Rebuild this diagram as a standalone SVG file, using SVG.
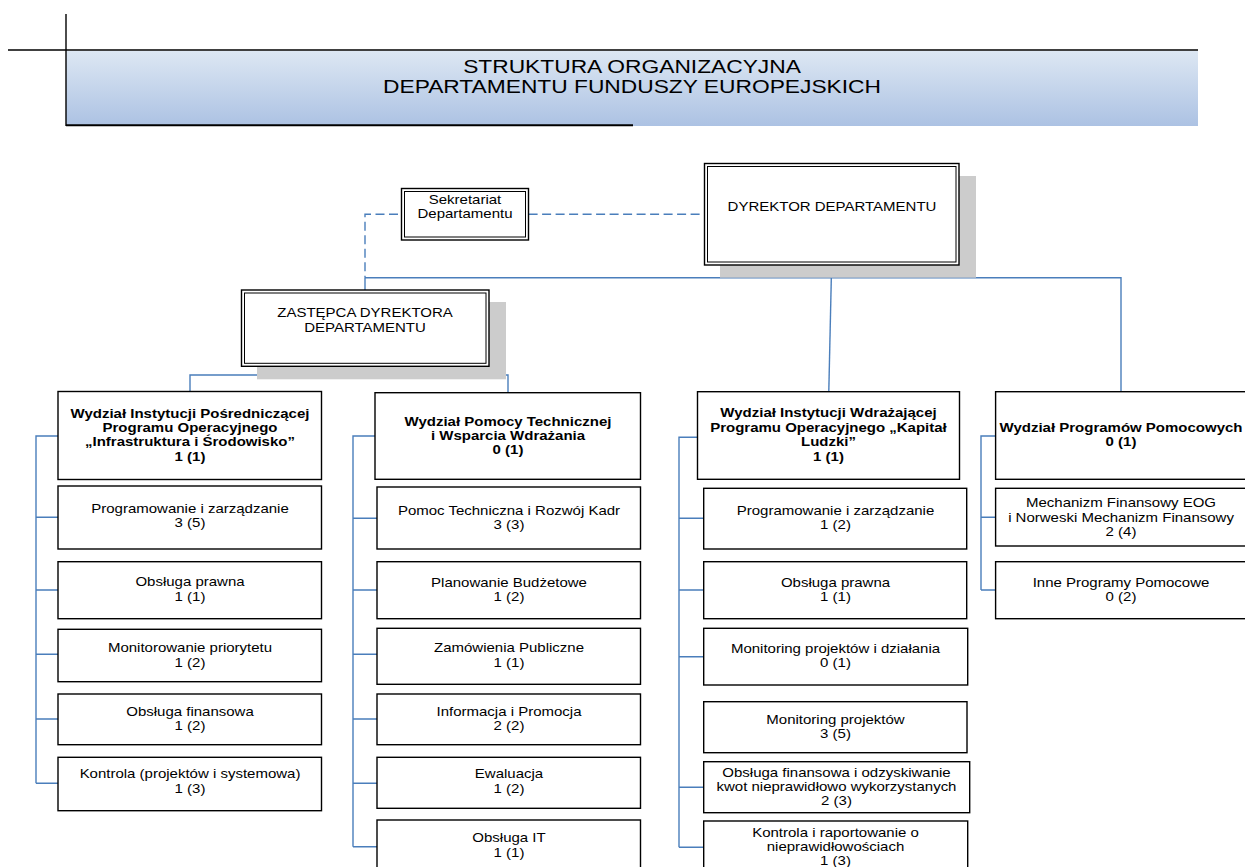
<svg xmlns="http://www.w3.org/2000/svg" width="1245" height="867" viewBox="0 0 1245 867">
<style>
text{font-family:"Liberation Sans",Arial,sans-serif;font-size:12.5px;fill:#000;text-anchor:middle}
.b{font-weight:bold}
.ttl{font-size:18.6px}
.box{fill:#fff;stroke:#000;stroke-width:1.4}
.in{fill:none;stroke:#000;stroke-width:1}
.sh{fill:#cccccc}
.c{fill:none;stroke:#4a7ebb;stroke-width:1.4}
.d{fill:none;stroke:#4a7ebb;stroke-width:1.4;stroke-dasharray:9 4.5}
</style>
<defs>
<linearGradient id="hg" x1="0" y1="0" x2="0" y2="1">
<stop offset="0" stop-color="#dde7f3"/>
<stop offset="1" stop-color="#acc2e3"/>
</linearGradient>
</defs>
<rect width="1245" height="867" fill="#fff"/>

<g id="header">
<rect x="66" y="51" width="1132" height="75" fill="url(#hg)"/>
<line x1="8" y1="50" x2="1198" y2="50" stroke="#000" stroke-width="1.6"/>
<line x1="66" y1="14" x2="66" y2="126" stroke="#000" stroke-width="1.4"/>
<line x1="66" y1="125.2" x2="633" y2="125.2" stroke="#000" stroke-width="2"/>
<g transform="translate(632 0) scale(1.225 1)">
<text class="ttl" x="0" y="73">STRUKTURA ORGANIZACYJNA</text>
<text class="ttl" x="0" y="93.5">DEPARTAMENTU FUNDUSZY EUROPEJSKICH</text>
</g>
</g>

<g id="connectors">
<path class="d" d="M398 214.3H365V277.7"/>
<path class="d" d="M528.6 214.3H701"/>
<path class="c" d="M365 277.7H1121V391.7"/>
<path class="c" d="M365 277.7V290"/>
<path class="c" d="M831.6 265L828.8 391.7"/>
<path class="c" d="M365 366.3V375M190 391.5V375H508V392.7"/>
<path class="c" d="M58 436H36V783.3M36 517.3H58M36 590H58M36 654.3H58M36 719H58M36 783.3H58"/>
<path class="c" d="M375 436H353V846.7M353 518.3H377M353 590H377M353 654.3H377M353 719H377M353 783.3H377M353 846.7H377"/>
<path class="c" d="M697.5 437.3H679V847.3M679 518.3H703.7M679 590H703.7M679 656.7H703.7M679 787.3H703.7M679 847.3H703.7"/>
<path class="c" d="M995.6 436H981V590M981 517.3H995.6M981 590H995.6"/>
</g>

<g id="sekretariat">
<rect class="box" x="401.5" y="188.5" width="127" height="51.5"/>
<rect class="in" x="404.5" y="191.5" width="121" height="45.5"/>
<g transform="translate(465 0) scale(1.2 1)">
<text x="0" y="203.8">Sekretariat</text>
<text x="0" y="218">Departamentu</text>
</g>
</g>

<g id="dyrektor">
<rect class="sh" x="720" y="176" width="256" height="101.7"/>
<rect class="box" x="704.5" y="163.5" width="254.5" height="101.5"/>
<rect class="in" x="707.5" y="166.5" width="248.5" height="95.5"/>
<g transform="translate(832 0) scale(1.2 1)">
<text x="0" y="211.2">DYREKTOR DEPARTAMENTU</text>
</g>
</g>

<g id="zastepca">
<rect class="sh" x="257" y="302" width="249" height="77.3"/>
<rect class="box" x="241.5" y="290" width="247.5" height="76.3"/>
<rect class="in" x="244.5" y="293" width="241.5" height="70.3"/>
<g transform="translate(365 0) scale(1.2 1)">
<text x="0" y="317.2">ZASTĘPCA DYREKTORA</text>
<text x="0" y="332.2">DEPARTAMENTU</text>
</g>
</g>

<g id="wydzial-is">
<rect class="box" x="58" y="391.5" width="263.5" height="88"/>
<g transform="translate(190 0) scale(1.2 1)">
<text class="b" x="0" y="418.3">Wydział Instytucji Pośredniczącej</text>
<text class="b" x="0" y="432.5">Programu Operacyjnego</text>
<text class="b" x="0" y="446.5">„Infrastruktura i Środowisko”</text>
<text class="b" x="0" y="460.7">1 (1)</text>
</g>
</g>
<g id="is-programowanie">
<rect class="box" x="58" y="486" width="263.5" height="63"/>
<g transform="translate(190 0) scale(1.2 1)"><text x="0" y="513">Programowanie i zarządzanie</text><text x="0" y="527.5">3 (5)</text></g>
</g>
<g id="is-prawna">
<rect class="box" x="58" y="561.7" width="263.5" height="57"/>
<g transform="translate(190 0) scale(1.2 1)"><text x="0" y="586.5">Obsługa prawna</text><text x="0" y="601">1 (1)</text></g>
</g>
<g id="is-monitorowanie">
<rect class="box" x="58" y="629.3" width="263.5" height="52.4"/>
<g transform="translate(190 0) scale(1.2 1)"><text x="0" y="652.3">Monitorowanie priorytetu</text><text x="0" y="666.7">1 (2)</text></g>
</g>
<g id="is-finansowa">
<rect class="box" x="58" y="694" width="263.5" height="50.7"/>
<g transform="translate(190 0) scale(1.2 1)"><text x="0" y="715.7">Obsługa finansowa</text><text x="0" y="730">1 (2)</text></g>
</g>
<g id="is-kontrola">
<rect class="box" x="58" y="757.3" width="263.5" height="53.4"/>
<g transform="translate(190 0) scale(1.2 1)"><text x="0" y="778.3">Kontrola (projektów i systemowa)</text><text x="0" y="792.7">1 (3)</text></g>
</g>

<g id="wydzial-pt">
<rect class="box" x="375" y="392.7" width="265.5" height="86.6"/>
<g transform="translate(508 0) scale(1.2 1)">
<text class="b" x="0" y="426">Wydział Pomocy Technicznej</text>
<text class="b" x="0" y="440">i Wsparcia Wdrażania</text>
<text class="b" x="0" y="454">0 (1)</text>
</g>
</g>
<g id="pt-pomoc">
<rect class="box" x="377" y="487" width="263.5" height="62"/>
<g transform="translate(509 0) scale(1.2 1)"><text x="0" y="515">Pomoc Techniczna i Rozwój Kadr</text><text x="0" y="529">3 (3)</text></g>
</g>
<g id="pt-budzet">
<rect class="box" x="377" y="561.7" width="263.5" height="57"/>
<g transform="translate(509 0) scale(1.2 1)"><text x="0" y="586.7">Planowanie Budżetowe</text><text x="0" y="601">1 (2)</text></g>
</g>
<g id="pt-zamowienia">
<rect class="box" x="377" y="628.3" width="263.5" height="56"/>
<g transform="translate(509 0) scale(1.2 1)"><text x="0" y="652.3">Zamówienia Publiczne</text><text x="0" y="667">1 (1)</text></g>
</g>
<g id="pt-informacja">
<rect class="box" x="377" y="694" width="263.5" height="50.7"/>
<g transform="translate(509 0) scale(1.2 1)"><text x="0" y="715.7">Informacja i Promocja</text><text x="0" y="730">2 (2)</text></g>
</g>
<g id="pt-ewaluacja">
<rect class="box" x="377" y="757.3" width="263.5" height="51"/>
<g transform="translate(509 0) scale(1.2 1)"><text x="0" y="778.3">Ewaluacja</text><text x="0" y="792.7">1 (2)</text></g>
</g>
<g id="pt-it">
<rect class="box" x="377" y="820" width="263.5" height="50"/>
<g transform="translate(509 0) scale(1.2 1)"><text x="0" y="842.3">Obsługa IT</text><text x="0" y="856.7">1 (1)</text></g>
</g>

<g id="wydzial-kl">
<rect class="box" x="697.5" y="391.7" width="262" height="87.6"/>
<g transform="translate(828.5 0) scale(1.2 1)">
<text class="b" x="0" y="417.3">Wydział Instytucji Wdrażającej</text>
<text class="b" x="0" y="431.7">Programu Operacyjnego „Kapitał</text>
<text class="b" x="0" y="446">Ludzki”</text>
<text class="b" x="0" y="460.7">1 (1)</text>
</g>
</g>
<g id="kl-programowanie">
<rect class="box" x="703.7" y="488.3" width="263" height="60.7"/>
<g transform="translate(835.5 0) scale(1.2 1)"><text x="0" y="515">Programowanie i zarządzanie</text><text x="0" y="529.3">1 (2)</text></g>
</g>
<g id="kl-prawna">
<rect class="box" x="703.7" y="561.7" width="263" height="57"/>
<g transform="translate(835.5 0) scale(1.2 1)"><text x="0" y="586.7">Obsługa prawna</text><text x="0" y="601">1 (1)</text></g>
</g>
<g id="kl-monitoring-dz">
<rect class="box" x="703.7" y="628.3" width="264" height="56.7"/>
<g transform="translate(835.5 0) scale(1.2 1)"><text x="0" y="652.8">Monitoring projektów i działania</text><text x="0" y="667.3">0 (1)</text></g>
</g>
<g id="kl-monitoring">
<rect class="box" x="703.7" y="701.7" width="263.3" height="51"/>
<g transform="translate(835.5 0) scale(1.2 1)"><text x="0" y="723.8">Monitoring projektów</text><text x="0" y="738.3">3 (5)</text></g>
</g>
<g id="kl-finansowa">
<rect class="box" x="703.7" y="761.7" width="266" height="51"/>
<g transform="translate(836.5 0) scale(1.2 1)"><text x="0" y="776.8">Obsługa finansowa i odzyskiwanie</text><text x="0" y="791.2">kwot nieprawidłowo wykorzystanych</text><text x="0" y="805.5">2 (3)</text></g>
</g>
<g id="kl-kontrola">
<rect class="box" x="703.7" y="821" width="264" height="50"/>
<g transform="translate(835.5 0) scale(1.2 1)"><text x="0" y="836.8">Kontrola i raportowanie o</text><text x="0" y="851.2">nieprawidłowościach</text><text x="0" y="865.2">1 (3)</text></g>
</g>

<g id="wydzial-pp">
<rect class="box" x="995.6" y="391.7" width="262" height="87.6"/>
<g transform="translate(1121 0) scale(1.2 1)">
<text class="b" x="0" y="431.7">Wydział Programów Pomocowych</text>
<text class="b" x="0" y="446">0 (1)</text>
</g>
</g>
<g id="pp-eog">
<rect class="box" x="995.6" y="488.3" width="262" height="57.7"/>
<g transform="translate(1121 0) scale(1.2 1)"><text x="0" y="507.5">Mechanizm Finansowy EOG</text><text x="0" y="522">i Norweski Mechanizm Finansowy</text><text x="0" y="536">2 (4)</text></g>
</g>
<g id="pp-inne">
<rect class="box" x="995.6" y="561.7" width="262" height="57"/>
<g transform="translate(1121 0) scale(1.2 1)"><text x="0" y="586.7">Inne Programy Pomocowe</text><text x="0" y="601">0 (2)</text></g>
</g>
</svg>
